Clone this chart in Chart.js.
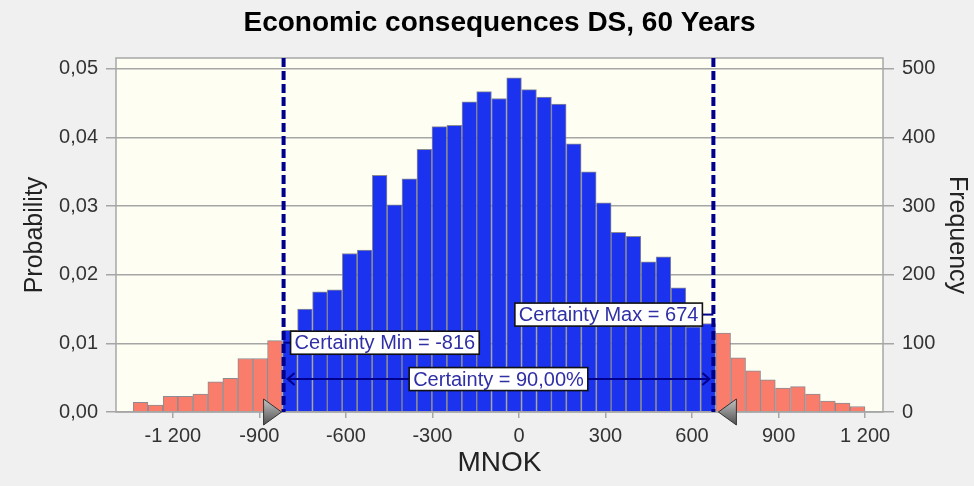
<!DOCTYPE html>
<html>
<head>
<meta charset="utf-8">
<style>
	body { margin: 0; background: #f0f0f0; }
	#wrap { width: 974px; height: 486px; }
</style>
</head>
<body>
<div id="wrap"><canvas id="_chart" width="974" height="486"></canvas></div>

<script src="https://cdn.jsdelivr.net/npm/chart.js@4/dist/chart.umd.min.js"></script>
<script>
var title = 'Economic consequences DS, 60 Years';

// bin centres (MNOK) and probability of each bin
var binCentre = [
	-1312, -1260, -1208, -1157, -1105, -1053, -1001, -949, -897, -846,
	-794, -742, -690, -639, -587, -535, -483, -431, -380, -328,
	-276, -224, -172, -121, -69, -17, 35, 87, 138, 190,
	242, 294, 345, 397, 449, 501, 553, 604, 656, 708,
	760, 812, 863, 915, 967, 1019, 1071, 1122, 1174
];
var probability = [
	0.0014, 0.0010, 0.0023, 0.0023, 0.0026, 0.0044, 0.0049, 0.0078, 0.0078, 0.0104,
	0.0119, 0.0150, 0.0175, 0.0178, 0.0231, 0.0236, 0.0345, 0.0302, 0.0340, 0.0383,
	0.0416, 0.0418, 0.0452, 0.0467, 0.0457, 0.0487, 0.0470, 0.0459, 0.0449, 0.0391,
	0.0350, 0.0305, 0.0262, 0.0256, 0.0219, 0.0226, 0.0181, 0.0124, 0.0129, 0.0115,
	0.0079, 0.0060, 0.0047, 0.0035, 0.0037, 0.0026, 0.0016, 0.0013, 0.0008
];

var certaintyMin = -816;
var certaintyMax = 674;
var certaintyText = 'Certainty = 90,00%';

var xTicks = [-1200, -900, -600, -300, 0, 300, 600, 900, 1200];
var probTicks = [0, 0.01, 0.02, 0.03, 0.04, 0.05];
var freqTicks = [0, 100, 200, 300, 400, 500];

var BLUE = '#1b32ee', RED = '#fa7d6c', NAVY = '#00008c', GRID = '#a6a6a6';
var FONT = "'Liberation Sans', Arial, sans-serif";

Chart.defaults.font.family = FONT;
Chart.defaults.color = '#333';

function thousands(v) {
	return (v < 0 ? '-' : '') + String(Math.abs(v)).replace(/\B(?=(\d{3})+(?!\d))/g, ' ');
}

function tag(ctx, text, x, y, align) {
	ctx.font = '20px ' + FONT;
	var w = ctx.measureText(text).width + 8, h = 23;
	var bx = align == 'left' ? x : align == 'right' ? x - w : x - w / 2;
	ctx.fillStyle = '#fff';
	ctx.fillRect(bx, y - h / 2, w, h);
	ctx.strokeStyle = '#111';
	ctx.lineWidth = 1.6;
	ctx.strokeRect(bx, y - h / 2, w, h);
	ctx.fillStyle = '#2f2fa6';
	ctx.textAlign = 'left';
	ctx.textBaseline = 'middle';
	ctx.fillText(text, bx + 4, y + 1);
	return { left: bx, right: bx + w };
}

function triangle(ctx, tipX, y, dir) {
	var back = tipX - dir * 18;
	var g = ctx.createLinearGradient(0, y - 13, 0, y + 13);
	g.addColorStop(0, '#c4c4c4');
	g.addColorStop(1, '#505050');
	ctx.beginPath();
	ctx.moveTo(tipX, y);
	ctx.lineTo(back, y - 13);
	ctx.lineTo(back, y + 13);
	ctx.closePath();
	ctx.fillStyle = g;
	ctx.fill();
	ctx.strokeStyle = '#333';
	ctx.lineWidth = 1;
	ctx.stroke();
}

var frame = {
	id: 'frame',
	beforeDraw(chart) {
		var ctx = chart.ctx, a = chart.chartArea;
		ctx.save();
		ctx.fillStyle = '#f0f0f0';
		ctx.fillRect(0, 0, chart.width, chart.height);
		ctx.fillStyle = '#fefef2';
		ctx.fillRect(a.left, a.top, a.width, a.height);
		ctx.fillStyle = '#000';
		ctx.font = 'bold 28px ' + FONT;
		ctx.textAlign = 'center';
		ctx.textBaseline = 'middle';
		ctx.fillText(title, (a.left + a.right) / 2, 23);
		ctx.restore();
	},
	afterDraw(chart) {
		var ctx = chart.ctx, a = chart.chartArea, x = chart.scales.x, y = chart.scales.y;
		var x0 = x.getPixelForValue(certaintyMin), x1 = x.getPixelForValue(certaintyMax);
		ctx.save();

		ctx.strokeStyle = GRID;
		ctx.lineWidth = 1.5;
		ctx.strokeRect(a.left, a.top, a.width, a.height);

		// certainty range lines
		ctx.strokeStyle = NAVY;
		ctx.lineWidth = 4;
		ctx.setLineDash([9, 4]);
		[x0, x1].forEach(function (px) {
			ctx.beginPath();
			ctx.moveTo(px, a.top);
			ctx.lineTo(px, a.bottom);
			ctx.stroke();
		});
		ctx.setLineDash([]);

		// double arrow
		var ya = y.getPixelForValue(0.0048);
		ctx.lineWidth = 2;
		ctx.beginPath();
		ctx.moveTo(x0 + 4, ya); ctx.lineTo(x1 - 4, ya);
		ctx.moveTo(x0 + 11, ya - 6); ctx.lineTo(x0 + 4, ya); ctx.lineTo(x0 + 11, ya + 6);
		ctx.moveTo(x1 - 11, ya - 6); ctx.lineTo(x1 - 4, ya); ctx.lineTo(x1 - 11, ya + 6);
		ctx.stroke();
		tag(ctx, certaintyText, (x0 + x1) / 2, ya, 'center');

		// min / max labels
		var ym = y.getPixelForValue(0.0101);
		ctx.strokeStyle = NAVY; ctx.lineWidth = 2;
		ctx.beginPath(); ctx.moveTo(x0, ym); ctx.lineTo(x0 + 8, ym); ctx.stroke();
		tag(ctx, 'Certainty Min = ' + certaintyMin, x0 + 7, ym, 'left');

		var yM = y.getPixelForValue(0.0142);
		ctx.strokeStyle = NAVY; ctx.lineWidth = 2;
		ctx.beginPath(); ctx.moveTo(x1, yM); ctx.lineTo(x1 - 12, yM); ctx.stroke();
		tag(ctx, 'Certainty Max = ' + certaintyMax, x1 - 11, yM, 'right');

		triangle(ctx, x0 - 2, a.bottom, 1);
		triangle(ctx, x1 + 5, a.bottom, -1);
		ctx.restore();
	}
};

var chart = new Chart(_chart, {
	type: 'bar',
	data: {
		datasets: [{
			data: binCentre.map((c, i) => ({ x: c, y: probability[i] })),
			backgroundColor: ctx => {
				var c = binCentre[ctx.dataIndex];
				return c < certaintyMin || c > certaintyMax ? RED : BLUE;
			},
			borderColor: 'rgba(120,120,130,0.85)',
			borderWidth: 1,
			barPercentage: 1,
			categoryPercentage: 1
		}]
	},
	options: {
		responsive: false,
		animation: false,
		layout: { padding: { top: 58, left: 0, right: 0, bottom: 0 } },
		plugins: { legend: { display: false }, tooltip: { enabled: false } },
		scales: {
			x: {
				type: 'linear',
				min: -1397, max: 1262,
				offset: false,
				grid: { offset: false, drawOnChartArea: false, color: GRID, lineWidth: 1.5, tickLength: 6 },
				border: { display: false },
				afterBuildTicks: s => { s.ticks = xTicks.map(v => ({ value: v })); },
				afterFit: s => { s.height = 74; },
				ticks: { font: { size: 20 }, padding: 6, maxRotation: 0, callback: v => thousands(v) },
				title: { display: true, text: 'MNOK', font: { size: 28 }, color: '#222', padding: { top: 2, bottom: 6 } }
			},
			y: {
				position: 'left',
				min: 0, max: 0.0516,
				grid: { color: GRID, lineWidth: 1.5, tickLength: 10 },
				border: { display: false },
				afterBuildTicks: s => { s.ticks = probTicks.map(v => ({ value: v })); },
				afterFit: s => { s.width = 116; },
				ticks: { font: { size: 20 }, padding: 8, callback: v => v.toFixed(2).replace('.', ',') },
				title: { display: true, text: 'Probability', font: { size: 25 }, color: '#222', padding: { top: 20, bottom: 0 } }
			},
			y2: {
				position: 'right',
				min: 0, max: 516,
				grid: { drawOnChartArea: false, color: GRID, lineWidth: 1.5, tickLength: 11 },
				border: { display: false },
				afterBuildTicks: s => { s.ticks = freqTicks.map(v => ({ value: v })); },
				afterFit: s => { s.width = 91; },
				ticks: { font: { size: 20 }, padding: 8 },
				title: { display: true, text: 'Frequency', font: { size: 25 }, color: '#222', padding: { top: 2, bottom: 0 } }
			}
		}
	},
	plugins: [frame]
});
</script>
</body>
</html>
